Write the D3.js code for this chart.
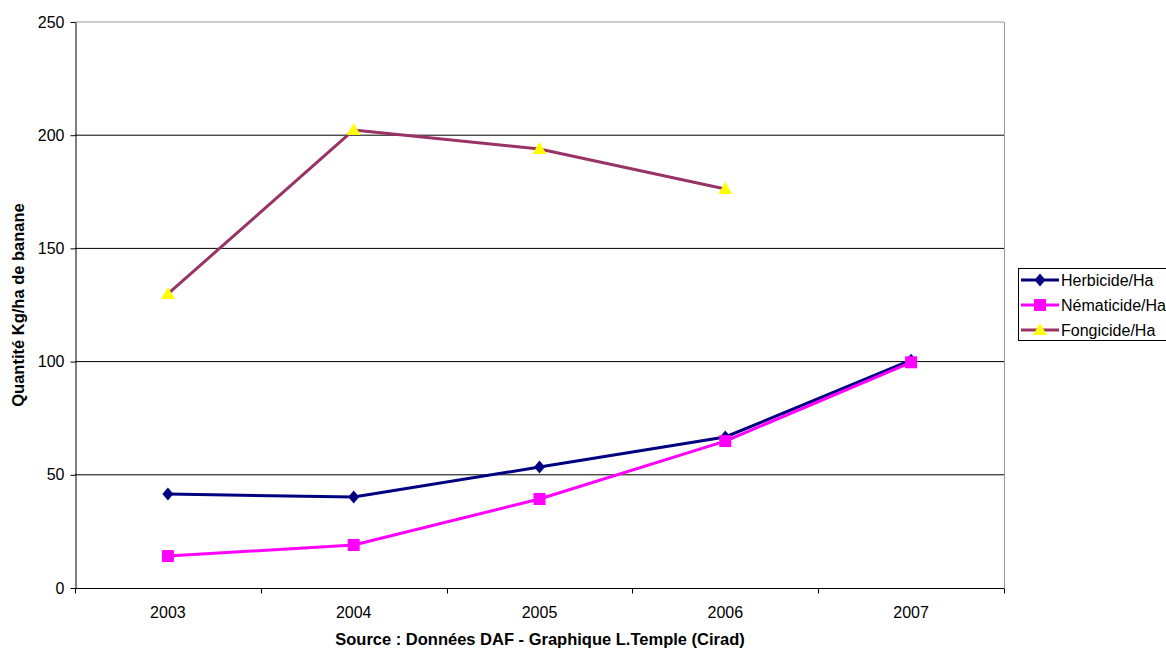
<!DOCTYPE html>
<html>
<head>
<meta charset="utf-8">
<script src="https://cdn.jsdelivr.net/npm/d3@7"></script>
<style>
  html, body { margin: 0; padding: 0; background: #fff; }
  svg { display: block; font-family: "Liberation Sans", Arial, sans-serif; }
</style>
</head>
<body>
<svg id="chart" width="1166" height="648"></svg>
<script>
// Pesticide use per hectare of banana, by year
const years = ["2003", "2004", "2005", "2006", "2007"];
const herbicide = [41.5, 40.2, 53.4, 66.7, 100.6];
const nematicide = [14.1, 19.0, 39.3, 64.9, 99.7];
const fongicide = [129.9, 202.3, 193.9, 176.2, null];
const yTicks = [0, 50, 100, 150, 200, 250];
const seriesNames = ["Herbicide/Ha", "Nématicide/Ha", "Fongicide/Ha"];

const series = [
  { name: seriesNames[0], values: herbicide, line: "#000080", fill: "#000080", marker: "diamond" },
  { name: seriesNames[1], values: nematicide, line: "#ff00ff", fill: "#ff00ff", marker: "square" },
  { name: seriesNames[2], values: fongicide, line: "#993366", fill: "#ffff00", marker: "triangle" }
];

const svg = d3.select("#chart");
const plot = { left: 75, right: 1004, top: 22, bottom: 588 };

const x = d3.scaleBand().domain(years).range([plot.left, plot.right]);
const y = d3.scaleLinear().domain([0, 250]).range([plot.bottom, plot.top]);

// Horizontal gridlines
svg.append("g").selectAll("line").data(yTicks.filter(d => d > 0)).join("line")
  .attr("x1", plot.left).attr("x2", plot.right)
  .attr("y1", d => y(d)).attr("y2", d => y(d))
  .attr("stroke", d => d === 250 ? "#999" : "#000").attr("stroke-width", 1);

// Right border of the plot area
svg.append("line")
  .attr("x1", plot.right + 0.5).attr("x2", plot.right + 0.5)
  .attr("y1", plot.top).attr("y2", plot.bottom)
  .attr("stroke", "#999");

// Y axis
const yAxis = svg.append("g")
  .attr("transform", `translate(${plot.left + 0.5},0)`)
  .call(d3.axisLeft(y).tickValues(yTicks).tickSize(5).tickSizeOuter(0).tickPadding(6));
yAxis.select(".domain").attr("stroke", "#000");
yAxis.selectAll(".tick line").attr("stroke", "#000");
yAxis.selectAll("text").attr("font-size", 16).attr("fill", "#000")
  .attr("font-family", "Liberation Sans, Arial, sans-serif");

// X axis with ticks between categories
const xAxisG = svg.append("g").attr("transform", `translate(0,${plot.bottom + 0.5})`);
xAxisG.append("line")
  .attr("x1", plot.left).attr("x2", plot.right)
  .attr("stroke", "#000");
const boundaries = years.map(d => x(d)).concat([x(years[years.length - 1]) + x.bandwidth()]);
xAxisG.selectAll("line.tick").data(boundaries).join("line")
  .attr("class", "tick")
  .attr("x1", d => Math.round(d) + 0.5).attr("x2", d => Math.round(d) + 0.5)
  .attr("y1", 0).attr("y2", 5)
  .attr("stroke", "#000");
xAxisG.selectAll("text").data(years).join("text")
  .attr("x", d => x(d) + x.bandwidth() / 2)
  .attr("y", 29)
  .attr("text-anchor", "middle")
  .attr("font-size", 16)
  .text(d => d);

// Axis titles
svg.append("text")
  .attr("transform", `translate(24,${(plot.top + plot.bottom) / 2}) rotate(-90)`)
  .attr("text-anchor", "middle")
  .attr("font-size", 16.5).attr("font-weight", "bold")
  .text("Quantité Kg/ha de banane");

svg.append("text")
  .attr("x", 540).attr("y", 645)
  .attr("text-anchor", "middle")
  .attr("font-size", 16.5).attr("font-weight", "bold")
  .text("Source : Données DAF - Graphique L.Temple (Cirad)");

// Marker shapes
function markerPath(kind) {
  if (kind === "diamond") return "M0,-6.5L5.5,0L0,6.5L-5.5,0Z";
  if (kind === "square") return "M-6,-6H6V6H-6Z";
  return "M0,-7L7,5H-7Z";
}

const cx = d => x(d) + x.bandwidth() / 2;

series.forEach(s => {
  const pts = years.map((yr, i) => ({ yr, v: s.values[i] })).filter(p => p.v != null);
  const line = d3.line().x(p => cx(p.yr)).y(p => y(p.v));
  svg.append("path")
    .datum(pts)
    .attr("d", line)
    .attr("fill", "none")
    .attr("stroke", s.line)
    .attr("stroke-width", 3)
    .attr("stroke-linejoin", "round");
  svg.append("g").selectAll("path").data(pts).join("path")
    .attr("transform", p => `translate(${cx(p.yr)},${y(p.v)})`)
    .attr("d", markerPath(s.marker))
    .attr("fill", s.fill);
});

// Legend
const legend = svg.append("g");
legend.append("rect")
  .attr("x", 1018.5).attr("y", 268.5)
  .attr("width", 160).attr("height", 72)
  .attr("fill", "#fff").attr("stroke", "#000");
series.forEach((s, i) => {
  const ly = 280 + i * 25;
  legend.append("line")
    .attr("x1", 1021).attr("x2", 1059)
    .attr("y1", ly).attr("y2", ly)
    .attr("stroke", s.line).attr("stroke-width", 3);
  legend.append("path")
    .attr("transform", `translate(1040,${ly})`)
    .attr("d", markerPath(s.marker))
    .attr("fill", s.fill);
  legend.append("text")
    .attr("x", 1061).attr("y", ly + 6)
    .attr("font-size", 16)
    .text(s.name);
});
</script>
</body>
</html>
